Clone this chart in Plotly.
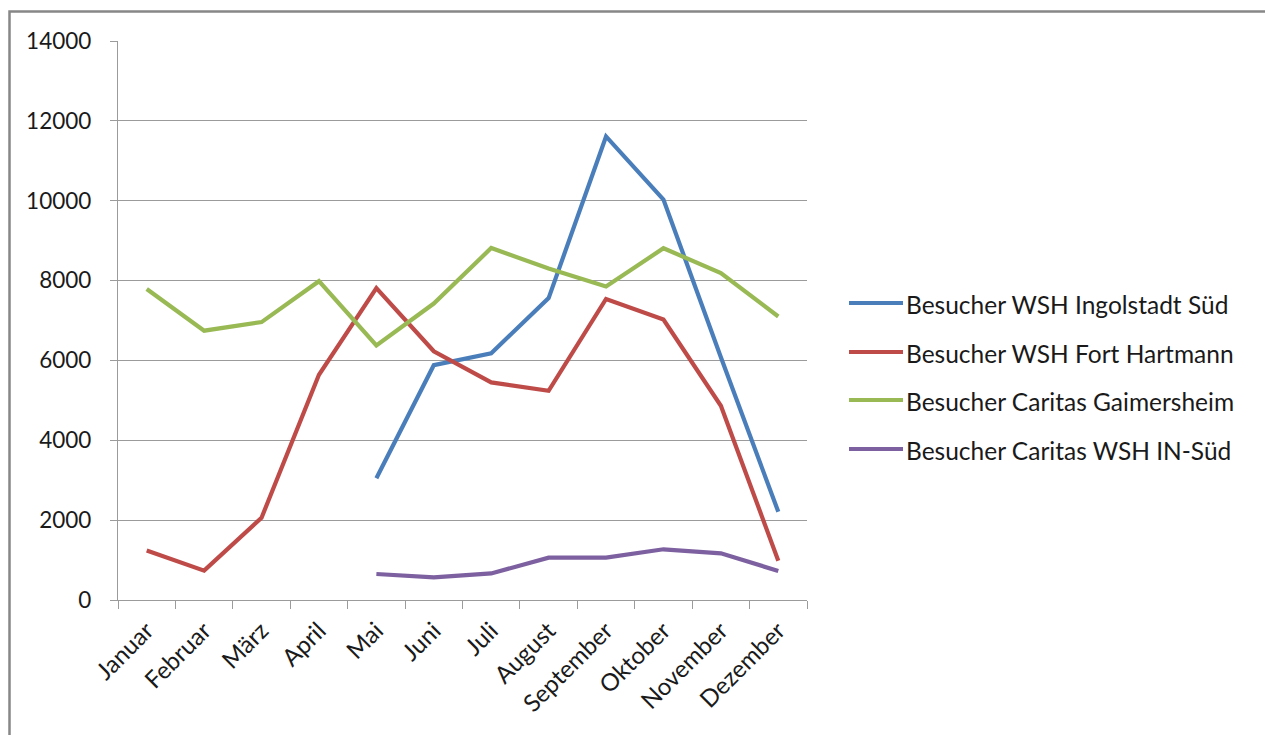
import plotly.graph_objects as go

months = ["Januar", "Februar", "März", "April", "Mai", "Juni", "Juli",
          "August", "September", "Oktober", "November", "Dezember"]

series_names = ["Besucher WSH Ingolstadt Süd", "Besucher WSH Fort Hartmann",
                "Besucher Caritas Gaimersheim", "Besucher Caritas WSH IN-Süd"]

ingolstadt_sued = [None, None, None, None, 3050, 5880, 6180, 7560, 11610, 10030, 6080, 2210]
fort_hartmann = [1240, 735, 2060, 5640, 7810, 6230, 5450, 5240, 7540, 7025, 4865, 985]
gaimersheim = [7790, 6745, 6960, 7985, 6375, 7425, 8815, 8300, 7850, 8810, 8188, 7100]
caritas_in_sued = [None, None, None, None, 651, 565, 665, 1060, 1060, 1270, 1170, 727]

y_ticks = [0, 2000, 4000, 6000, 8000, 10000, 12000, 14000]

colors = ["#4A7EBB", "#BE4B48", "#98B954", "#7D60A0"]
all_series = [ingolstadt_sued, fort_hartmann, gaimersheim, caritas_in_sued]

W, H = 1265, 735
L, R, T, B = 118, 807, 41, 600  # plot area in pixels

FONT = "Lato"
GRID = "#9b9b9b"
TXT = "#1a1a1a"

fig = go.Figure()
for name, vals, col in zip(series_names, all_series, colors):
    fig.add_trace(go.Scatter(
        x=months, y=vals, name=name, mode="lines",
        line=dict(color=col, width=4.2), connectgaps=False, showlegend=False,
    ))


def px_x(p):
    return (p - L) / (R - L)


def px_y(p):
    return (B - p) / (B - T)


shapes = []
annotations = []
# outer frame
shapes.append(dict(type="rect", xref="paper", yref="paper",
                   x0=px_x(9.5), x1=px_x(1290), y0=px_y(11.5), y1=px_y(760),
                   line=dict(color="#878787", width=2.5), fillcolor="rgba(0,0,0,0)",
                   layer="below"))

# custom legend
rows = [303, 352, 400, 449]
for name, col, ry in zip(series_names, colors, rows):
    shapes.append(dict(type="line", xref="paper", yref="paper",
                       x0=px_x(849), x1=px_x(903), y0=px_y(ry), y1=px_y(ry),
                       line=dict(color=col, width=4.2)))
    annotations.append(dict(xref="paper", yref="paper", x=px_x(904), y=px_y(ry + 1),
                            text=name, showarrow=False, xanchor="left", yanchor="middle",
                            font=dict(family=FONT, size=24.5, color=TXT)))

fig.update_layout(
    width=W, height=H,
    margin=dict(l=L, r=W - R, t=T, b=H - B, pad=0),
    paper_bgcolor="white", plot_bgcolor="white",
    font=dict(family=FONT, size=22, color=TXT),
    shapes=shapes, annotations=annotations,
    showlegend=False,
)

fig.update_xaxes(
    type="category", categoryorder="array", categoryarray=months,
    range=[-0.5, 11.5], tickson="boundaries",
    ticks="outside", ticklen=8, tickwidth=1.3, tickcolor=GRID,
    showline=True, linecolor=GRID, linewidth=1.3,
    showgrid=False, tickangle=-45,
    tickfont=dict(family=FONT, size=24, color=TXT),
    ticklabelstandoff=6,
)

fig.update_yaxes(
    range=[0, 14000], tickvals=y_ticks, ticktext=[str(v) for v in y_ticks],
    ticks="outside", ticklen=7, tickwidth=1.3, tickcolor=GRID,
    showline=True, linecolor=GRID, linewidth=1.3,
    showgrid=True, gridcolor=GRID, gridwidth=1.3, zeroline=False,
    tickfont=dict(family=FONT, size=22.5, color=TXT),
    ticklabelstandoff=14,
)

fig.write_html("out.html")
